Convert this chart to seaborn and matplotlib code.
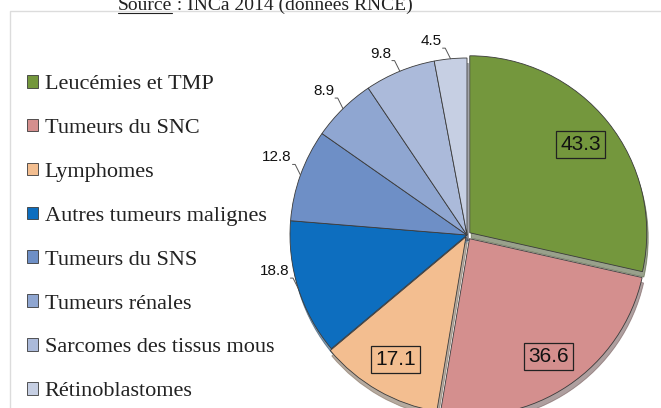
import numpy as np
import matplotlib
matplotlib.use("Agg")
import matplotlib.pyplot as plt
import seaborn as sns
from matplotlib.patches import Rectangle
from matplotlib.lines import Line2D

# data
categories = ["Leucémies et TMP", "Tumeurs du SNC", "Lymphomes", "Autres tumeurs malignes",
              "Tumeurs du SNS", "Tumeurs rénales", "Sarcomes des tissus mous", "Rétinoblastomes"]
values = [43.3, 36.6, 17.1, 18.8, 12.8, 8.9, 9.8, 4.5]
boxed = [True, True, True, False, False, False, False, False]
title_underlined = "Source"
title_rest = " : INCa 2014 (données RNCE)"

sns.set_theme(style="white")
plt.rcParams["font.family"] = ["Liberation Sans", "DejaVu Sans"]

colors = sns.color_palette(["#74973D", "#D48F8E", "#F3BE90", "#0D6EBF",
                            "#6E8FC6", "#8FA6D1", "#ABBADA", "#C6CFE3"])
explode = [0.02, 0.025, 0.012, 0, 0, 0, 0, 0]

W, H = 661, 408
fig = plt.figure(figsize=(W / 100, H / 100), dpi=100)

# light frame of the original chart area
fig.patches.append(Rectangle((10 / W, -0.05), 1.2, 1 - 11 / H + 0.05, transform=fig.transFigure,
                             fill=False, edgecolor="#DCDCDC", linewidth=1.0))

cx, cy, r = 467, 235, 177  # pixels from top-left
ax = fig.add_axes([(cx - r) / W, (H - cy - r) / H, 2 * r / W, 2 * r / H])
wedges, _ = ax.pie(values, colors=colors, startangle=90, counterclock=False, explode=explode,
                   radius=1.0, wedgeprops=dict(edgecolor="#3A3A3A", linewidth=0.6),
                   shadow=dict(ox=0.006, oy=-0.022, shade=0.55))
ax.set_xlim(-1.0, 1.0)
ax.set_ylim(-1.0, 1.0)
ax.set_aspect("equal")
ax.axis("off")

# value labels
for w, v, b in zip(wedges, values, boxed):
    mid = np.deg2rad((w.theta1 + w.theta2) / 2)
    ox, oy = w.center
    if b:
        ax.text(ox + 0.8 * np.cos(mid), oy + 0.8 * np.sin(mid), f"{v}", fontsize=15,
                ha="center", va="center", color="#111111",
                bbox=dict(boxstyle="square,pad=0.2", fc="none", ec="#222222", lw=0.9))
    else:
        x0, y0 = np.cos(mid), np.sin(mid)
        x1, y1 = x0 - 0.03, y0 + 0.06
        ax.add_line(Line2D([x0, x1, x1 - 0.015], [y0, y1, y1], color="#555555", lw=0.7,
                           clip_on=False))
        ax.text(x1 - 0.02, y1, f"{v}", fontsize=11, ha="right", va="bottom",
                color="#111111")

# legend
leg = fig.legend(wedges, categories, loc="upper left", bbox_to_anchor=(18 / W, 1 - 66 / H),
                 frameon=False, handlelength=0.5, handleheight=0.5,
                 handletextpad=0.3, labelspacing=1.11, borderaxespad=0,
                 prop={"family": ["Liberation Serif", "DejaVu Serif"], "size": 16})
for t in leg.get_texts():
    t.set_color("#222222")

# title, clipped at the top like the reference
ty = 1 - 10 / H
t1 = fig.text(118 / W, ty, title_underlined, fontsize=14, va="baseline", ha="left",
              family=["Liberation Serif", "DejaVu Serif"], color="#222222")
fig.canvas.draw()
bb = t1.get_window_extent()
fig.text(bb.x1 / W, ty, title_rest, fontsize=14, va="baseline", ha="left",
         family=["Liberation Serif", "DejaVu Serif"], color="#222222")
uy = ty - 2.5 / H
fig.add_artist(Line2D([bb.x0 / W, bb.x1 / W], [uy, uy], transform=fig.transFigure,
                      color="#222222", lw=0.8))

fig.savefig("out.png", dpi=100)
